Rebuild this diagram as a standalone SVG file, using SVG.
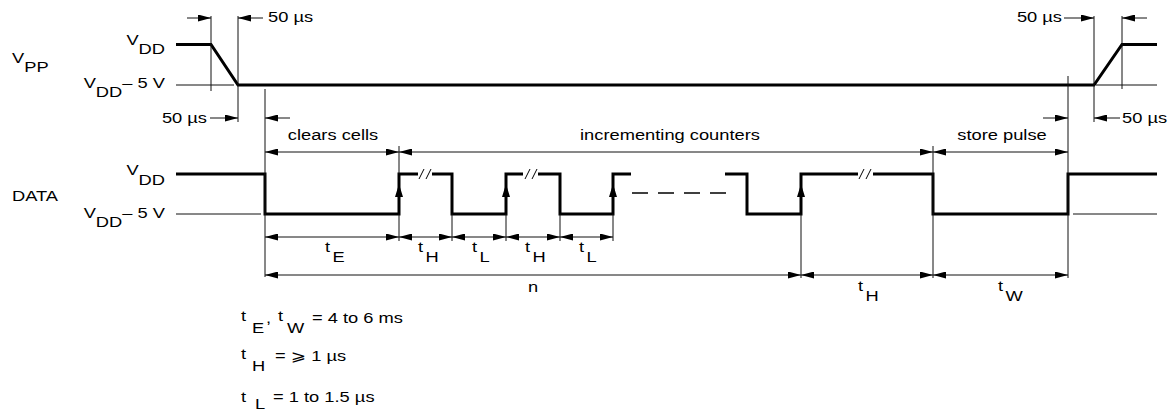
<svg xmlns="http://www.w3.org/2000/svg" width="1174" height="415" viewBox="0 0 1174 415">
<style>
text{font-family:"Liberation Sans",Arial,"DejaVu Sans",sans-serif;font-size:15px;fill:#000}
.wave{fill:none;stroke:#000;stroke-width:3;stroke-linejoin:miter;stroke-linecap:butt}
.thin{fill:none;stroke:#111;stroke-width:1}
.dim{fill:none;stroke:#111;stroke-width:1;marker-end:url(#ah)}
.dim2{fill:none;stroke:#111;stroke-width:1;marker-start:url(#ah);marker-end:url(#ah)}
.brk{fill:none;stroke:#000;stroke-width:1}
.dash{fill:none;stroke:#000;stroke-width:1.6;stroke-dasharray:16 10}
.up{fill:#000}
</style>
<defs>
<marker id="ah" markerUnits="userSpaceOnUse" markerWidth="13" markerHeight="7" refX="13" refY="3.5" orient="auto-start-reverse">
<path d="M0,0 L13,3.5 L0,7 z" fill="#000"/>
</marker>
</defs>

<g id="labels-left">
<text transform="translate(12,63) scale(1.22,1)">V<tspan dy="9">PP</tspan></text>
<text transform="translate(165,45) scale(1.22,1)" text-anchor="end">V<tspan dy="9">DD</tspan></text>
<text transform="translate(165,88) scale(1.22,1)" text-anchor="end">V<tspan dy="9">DD</tspan><tspan dy="-9">– 5 V</tspan></text>
<text transform="translate(12,201) scale(1.22,1)">DATA</text>
<text transform="translate(165,175) scale(1.22,1)" text-anchor="end">V<tspan dy="10">DD</tspan></text>
<text transform="translate(165,218) scale(1.22,1)" text-anchor="end">V<tspan dy="9">DD</tspan><tspan dy="-9">– 5 V</tspan></text>
</g>

<g id="vpp-signal">
<path class="thin" d="M176,85 H234 M1096,85 H1157"/>
<path class="wave" d="M176,44.5 H211 L238,85 H1094 L1122,44.5 H1157"/>
</g>

<g id="data-signal">
<path class="thin" d="M176,214 H261 M1073,214 H1157"/>
<path class="wave" d="M176,174 H265 V214 H399 V174 H418 M432,174 H452 V214 H506 V174 H523 M538,174 H560 V214 H613 V174 H631 M725,174 H747 V214 H801 V174 H858 M873,174 H933 V214 H1068 V174 H1157"/>
<path class="brk" d="M419,179 L424,169 M426,179 L431,169 M525,179 L530,169 M532,179 L537,169 M859,179 L864,169 M866,179 L871,169"/>
<path class="dash" d="M632,193 H728"/>
<path class="up" d="M399,184 L395,197 L403,197 z M506,184 L502,197 L510,197 z M613,184 L609,197 L617,197 z M801,184 L797,197 L805,197 z"/>
</g>

<g id="connectors">
<path class="thin" d="M211,16 V91 M238,16 V122 M265,89 V277 M399,146 V174 M399,214 V241 M452,214 V241 M506,214 V241 M560,214 V241 M613,214 V241 M801,214 V278 M933,146 V278 M1068,76 V278 M1094,16 V122 M1122,16 V89"/>
<path class="dim" d="M187,18 H211"/>
<path class="dim" d="M263,18 H238"/>
<path class="dim" d="M1064,18 H1094"/>
<path class="dim" d="M1147,18 H1122"/>
<path class="dim" d="M210,118 H238"/>
<path class="dim" d="M290,118 H265"/>
<path class="dim" d="M1043,118 H1068"/>
<path class="dim" d="M1120,118 H1094"/>
<path class="dim2" d="M265,152 H399"/>
<path class="dim2" d="M399,152 H933"/>
<path class="dim2" d="M933,152 H1068"/>
<path class="dim2" d="M265,237 H399"/>
<path class="dim2" d="M399,237 H452"/>
<path class="dim2" d="M452,237 H506"/>
<path class="dim2" d="M506,237 H560"/>
<path class="dim2" d="M560,237 H613"/>
<path class="dim2" d="M265,275 H801"/>
<path class="dim2" d="M801,275 H933"/>
<path class="dim2" d="M933,275 H1068"/>
</g>

<g id="dimension-labels">
<text transform="translate(268,22) scale(1.22,1)">50 µs</text>
<text transform="translate(207,123) scale(1.22,1)" text-anchor="end">50 µs</text>
<text transform="translate(1062,22) scale(1.22,1)" text-anchor="end">50 µs</text>
<text transform="translate(1122,123) scale(1.22,1)">50 µs</text>
<text transform="translate(333,140) scale(1.22,1)" text-anchor="middle">clears cells</text>
<text transform="translate(670,140) scale(1.22,1)" text-anchor="middle">incrementing counters</text>
<text transform="translate(1002,140) scale(1.22,1)" text-anchor="middle">store pulse</text>
<text transform="translate(325,252) scale(1.22,1)">t<tspan dx="2" dy="10">E</tspan></text>
<text transform="translate(418,252) scale(1.22,1)">t<tspan dx="2" dy="10">H</tspan></text>
<text transform="translate(472,252) scale(1.22,1)">t<tspan dx="2" dy="10">L</tspan></text>
<text transform="translate(525,252) scale(1.22,1)">t<tspan dx="2" dy="10">H</tspan></text>
<text transform="translate(579,252) scale(1.22,1)">t<tspan dx="2" dy="10">L</tspan></text>
<text transform="translate(533,292) scale(1.22,1)" text-anchor="middle">n</text>
<text transform="translate(858,291) scale(1.22,1)">t<tspan dx="2" dy="10">H</tspan></text>
<text transform="translate(998,291) scale(1.22,1)">t<tspan dx="2" dy="10">W</tspan></text>
</g>

<g id="legend">
<text transform="translate(241,320.5) scale(1.22,1)">t</text>
<text transform="translate(252,333) scale(1.22,1)">E</text>
<text transform="translate(266,323) scale(1.22,1)">,</text>
<text transform="translate(278,320.5) scale(1.22,1)">t</text>
<text transform="translate(287,333) scale(1.22,1)">W</text>
<text transform="translate(312,323) scale(1.22,1)">= 4 to 6 ms</text>
<text transform="translate(241,358.5) scale(1.22,1)">t</text>
<text transform="translate(252,370.5) scale(1.22,1)">H</text>
<text transform="translate(275,361) scale(1.22,1)">= ⩾ 1  µs</text>
<text transform="translate(241,401.5) scale(1.22,1)">t</text>
<text transform="translate(255,409) scale(1.22,1)">L</text>
<text transform="translate(273,401.5) scale(1.22,1)">= 1 to 1.5 µs</text>
</g>
</svg>
